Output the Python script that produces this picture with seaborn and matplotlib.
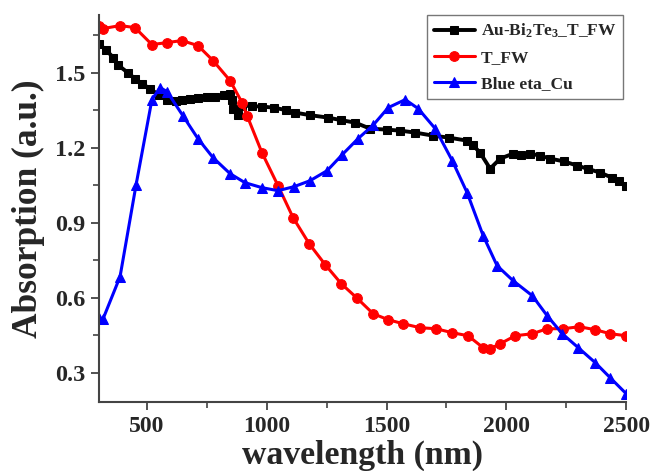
import numpy as np
import pandas as pd
import matplotlib
matplotlib.use("Agg")
import matplotlib.pyplot as plt
import seaborn as sns
from matplotlib.ticker import MultipleLocator

# ---- data ----
black_x = [300, 330, 360, 380, 420, 450, 480, 513, 550, 584, 620, 646, 680, 713, 750, 784, 820, 847,
           855, 860, 880, 897, 940, 980, 1030, 1080, 1118, 1180, 1256, 1310, 1369, 1431, 1500, 1557,
           1620, 1694, 1760, 1836, 1860, 1890, 1932, 1974, 2028, 2060, 2100, 2140, 2183, 2240, 2296,
           2340, 2392, 2440, 2470, 2500]
black_y = [1.615, 1.59, 1.56, 1.53, 1.50, 1.476, 1.455, 1.436, 1.41, 1.39, 1.385, 1.39, 1.395, 1.40,
           1.402, 1.404, 1.41, 1.416, 1.39, 1.356, 1.33, 1.368, 1.366, 1.364, 1.36, 1.35, 1.34, 1.33,
           1.32, 1.31, 1.30, 1.276, 1.272, 1.268, 1.26, 1.248, 1.24, 1.228, 1.21, 1.18, 1.116, 1.156,
           1.176, 1.172, 1.176, 1.168, 1.156, 1.145, 1.128, 1.115, 1.10, 1.08, 1.065, 1.048]

red_x = [300, 317, 388, 450, 521, 584, 646, 713, 776, 847, 897, 918, 980, 1047, 1110, 1177, 1244,
         1311, 1377, 1444, 1507, 1569, 1640, 1707, 1774, 1840, 1903, 1932, 1974, 2037, 2108, 2170,
         2237, 2304, 2371, 2433, 2500]
red_y = [1.685, 1.676, 1.688, 1.68, 1.612, 1.62, 1.628, 1.608, 1.548, 1.468, 1.38, 1.328, 1.18,
         1.048, 0.92, 0.816, 0.732, 0.656, 0.598, 0.536, 0.512, 0.496, 0.48, 0.476, 0.46, 0.448,
         0.40, 0.396, 0.416, 0.448, 0.456, 0.476, 0.476, 0.484, 0.472, 0.456, 0.448]

blue_x = [300, 317, 388, 455, 521, 555, 584, 650, 713, 776, 847, 909, 980, 1047, 1114, 1181, 1252,
          1315, 1381, 1444, 1507, 1578, 1632, 1703, 1774, 1836, 1903, 1961, 2028, 2108, 2170, 2233,
          2300, 2371, 2433, 2500]
blue_y = [0.52, 0.515, 0.684, 1.052, 1.392, 1.44, 1.424, 1.328, 1.236, 1.16, 1.096, 1.06, 1.04,
          1.028, 1.044, 1.068, 1.108, 1.172, 1.236, 1.29, 1.36, 1.392, 1.356, 1.276, 1.148, 1.02,
          0.848, 0.728, 0.668, 0.608, 0.528, 0.456, 0.40, 0.34, 0.28, 0.216]

labels = [r"Au-Bi$_\mathbf{2}$Te$_\mathbf{3}$_T_FW", "T_FW", "Blue eta_Cu"]
x_ticks = [500, 1000, 1500, 2000, 2500]
y_ticks = [0.3, 0.6, 0.9, 1.2, 1.5]

sns.set_style("ticks")
plt.rcParams["font.family"] = ["Liberation Serif", "DejaVu Serif"]
plt.rcParams["font.weight"] = "bold"
plt.rcParams["mathtext.fontset"] = "custom"
plt.rcParams["mathtext.rm"] = "Liberation Serif:bold"
plt.rcParams["mathtext.bf"] = "Liberation Serif:bold"
plt.rcParams["mathtext.it"] = "Liberation Serif:bold:italic"

fig = plt.figure(figsize=(6.51, 4.71), dpi=100)
ax = fig.add_axes([0.152, 0.147, 0.810, 0.821])

df_b = pd.DataFrame({"x": black_x, "y": black_y})
df_r = pd.DataFrame({"x": red_x, "y": red_y})
df_u = pd.DataFrame({"x": blue_x, "y": blue_y})

sns.lineplot(data=df_b, x="x", y="y", ax=ax, color="black", lw=2.8, marker="s", ms=5.5,
             mec="black", sort=False, label=labels[0])
sns.lineplot(data=df_r, x="x", y="y", ax=ax, color="#ff0000", lw=2.2, marker="o", ms=7,
             mec="#ff0000", sort=False, label=labels[1])
sns.lineplot(data=df_u, x="x", y="y", ax=ax, color="#0000ff", lw=2.2, marker="^", ms=7.5,
             mec="#0000ff", sort=False, label=labels[2])

ax.set_xlim(300, 2500)
ax.set_ylim(0.184, 1.73)
ax.set_xticks(x_ticks)
ax.set_yticks(y_ticks)
ax.xaxis.set_minor_locator(MultipleLocator(250))
ax.yaxis.set_minor_locator(MultipleLocator(0.15))
ax.set_xticklabels([str(v) for v in x_ticks], fontsize=17, fontweight="bold")
ax.set_yticklabels([f"{v:.1f}" for v in y_ticks], fontsize=17.5, fontweight="bold")
ax.tick_params(which="major", direction="out", length=6, width=1.3, color="#444444", pad=4)
ax.tick_params(which="minor", direction="out", length=4, width=1.2, color="#444444")

for s in ["top", "right"]:
    ax.spines[s].set_visible(False)
for s in ["left", "bottom"]:
    ax.spines[s].set_color("#444444")
    ax.spines[s].set_linewidth(1.5)

ax.set_xlabel("wavelength (nm)", fontsize=24.3, fontweight="bold", labelpad=2)
ax.set_ylabel("Absorption (a.u.)", fontsize=25.5, fontweight="bold", labelpad=7)

leg = ax.legend(loc="upper right", bbox_to_anchor=(0.994, 1.0), fontsize=12.5, frameon=True,
                fancybox=False, handlelength=2.4, borderpad=0.4, labelspacing=0.55,
                handletextpad=0.3, borderaxespad=0.0)
leg.get_frame().set_edgecolor("#555555")
leg.get_frame().set_linewidth(1.0)
for t in leg.get_texts():
    t.set_fontweight("bold")

fig.savefig("out.png", dpi=100)
